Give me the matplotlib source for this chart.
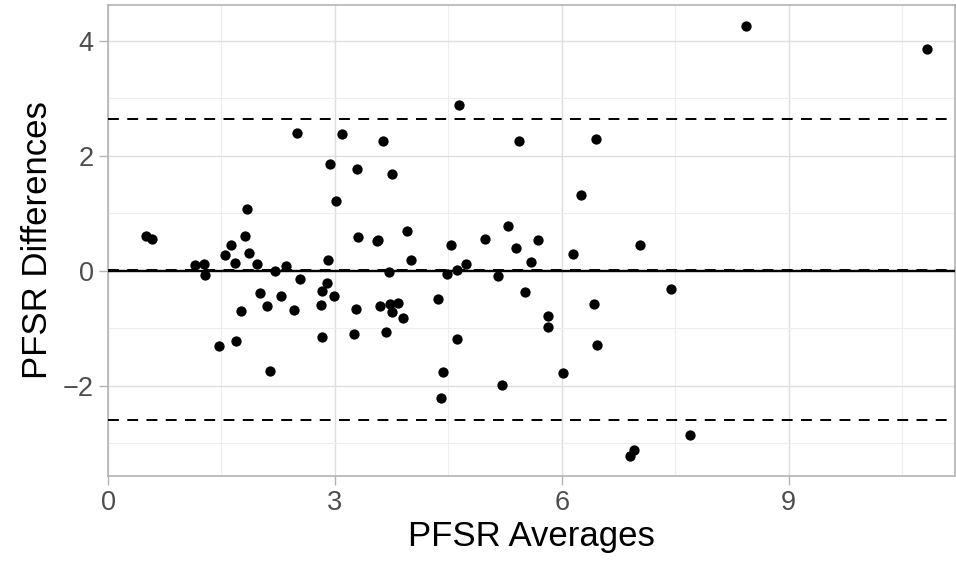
import matplotlib
matplotlib.use("Agg")
import matplotlib.pyplot as plt
import numpy as np

# Bland-Altman style data
pfsr_avg = [
    0.507, 0.586, 1.155, 1.274, 1.279,
    2.50, 1.843, 1.808, 1.627, 1.548, 1.865, 1.676, 1.967, 2.209, 2.354,
    2.54, 2.01, 2.288, 2.108, 2.465, 1.759, 1.464, 1.697, 2.143,
    3.095, 3.63, 2.937, 3.29, 3.75, 3.016, 3.307, 3.95, 3.554, 3.576,
    2.914, 4.00, 3.713, 2.89, 2.826, 2.99, 2.817, 3.28, 3.60, 3.73,
    3.83, 3.75, 3.90, 2.83, 3.25, 3.68,
    4.643, 4.533, 4.98, 5.295, 4.735, 4.61, 4.476, 5.163, 4.365, 4.61,
    4.43, 5.216, 4.40,
    5.43, 6.455, 6.25, 5.68, 5.40, 5.59, 6.15, 5.52, 6.42, 5.82, 5.82,
    6.47, 6.02,
    7.03, 7.45, 7.69, 6.95, 6.90,
    8.43, 10.83,
]
pfsr_diff = [
    0.60, 0.56, 0.10, 0.12, -0.07,
    2.39, 1.07, 0.60, 0.44, 0.28, 0.31, 0.13, 0.11, -0.01, 0.09,
    -0.14, -0.39, -0.44, -0.62, -0.69, -0.70, -1.31, -1.22, -1.74,
    2.38, 2.25, 1.85, 1.77, 1.69, 1.22, 0.59, 0.69, 0.51, 0.54,
    0.19, 0.19, -0.03, -0.22, -0.36, -0.44, -0.60, -0.66, -0.62, -0.57,
    -0.56, -0.71, -0.83, -1.15, -1.10, -1.06,
    2.89, 0.45, 0.55, 0.78, 0.12, 0.01, -0.06, -0.09, -0.49, -1.19,
    -1.76, -1.99, -2.22,
    2.26, 2.29, 1.31, 0.53, 0.39, 0.16, 0.29, -0.37, -0.57, -0.78, -0.98,
    -1.29, -1.78,
    0.44, -0.32, -2.86, -3.12, -3.22,
    4.25, 3.86,
]

mean_diff = 0.02
upper_loa = 2.64
lower_loa = -2.60

GRID_MAJOR = "#DEDEDE"
GRID_MINOR = "#EDEDED"
BORDER = "#B3B3B3"
TICK_TXT = "#4D4D4D"

plt.rcParams["font.family"] = ["Liberation Sans", "DejaVu Sans"]

fig = plt.figure(figsize=(9.56, 5.68), dpi=100)
ax = fig.add_axes([0.113, 0.162, 0.886, 0.829])

ax.scatter(pfsr_avg, pfsr_diff, s=55, color="black", linewidths=0, zorder=4)

ax.axhline(0, color="black", lw=1.7, zorder=3)
for yv in (mean_diff, upper_loa, lower_loa):
    ax.axhline(yv, color="black", lw=1.4, ls=(0, (5.6, 4.3)), zorder=3)

ax.set_xlim(0, 11.2)
ax.set_ylim(-3.57, 4.62)
ax.set_xticks([0, 3, 6, 9])
ax.set_yticks([-2, 0, 2, 4])
ax.set_yticklabels(["\u22122", "0", "2", "4"])
ax.set_xticks(np.arange(1.5, 11.2, 3), minor=True)
ax.set_yticks([-3, -1, 1, 3], minor=True)

ax.grid(which="major", color=GRID_MAJOR, lw=1.0, zorder=0)
ax.grid(which="minor", color=GRID_MINOR, lw=0.8, zorder=0)
ax.set_axisbelow(True)

for sp in ax.spines.values():
    sp.set_color(BORDER)
    sp.set_linewidth(1.2)

ax.tick_params(which="major", length=6.3, width=1, color=BORDER,
               labelsize=19.5, labelcolor=TICK_TXT, pad=4)
ax.tick_params(which="minor", length=0)

ax.set_xlabel("PFSR Averages", fontsize=25, labelpad=3)
ax.set_ylabel("PFSR Differences", fontsize=25, labelpad=6)

fig.savefig("out.png", dpi=100, facecolor="white")
